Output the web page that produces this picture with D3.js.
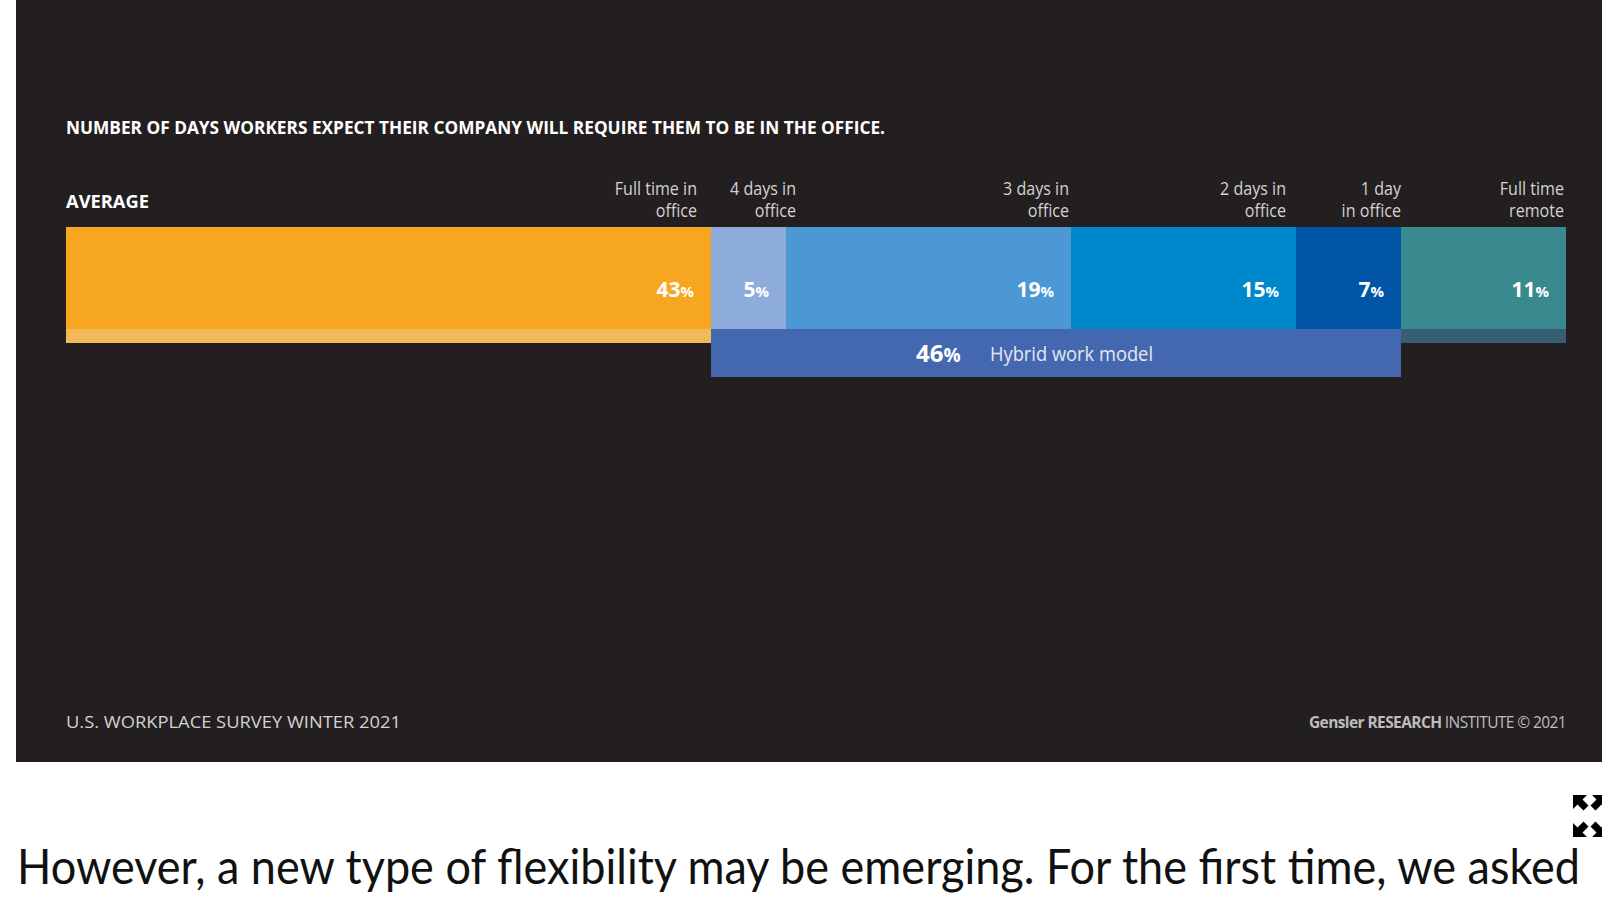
<!DOCTYPE html>
<html>
<head>
<meta charset="utf-8">
<script src="https://cdn.jsdelivr.net/npm/d3@7"></script>
<style>
  html, body { margin: 0; padding: 0; background: #ffffff; overflow: hidden; }
  svg { display: block; }
</style>
</head>
<body>
<svg id="chart" width="1602" height="903"></svg>
<script>
// ---- data ----
const categories = ["Full time in office", "4 days in office", "3 days in office", "2 days in office", "1 day in office", "Full time remote"];
const labelLines = [["Full time in", "office"], ["4 days in", "office"], ["3 days in", "office"], ["2 days in", "office"], ["1 day", "in office"], ["Full time", "remote"]];
const values = [43, 5, 19, 15, 7, 11];
const colors = ["#F7A71F", "#8DACDA", "#4B98D4", "#0088CC", "#0055A6", "#3A898E"];
const stripColors = ["#F1BA59", null, null, null, null, "#385E74"];
const hybridRange = [1, 4]; // indexes of segments that form the hybrid model
const hybridValue = 46;
const hybridLabel = "Hybrid work model";
const labelNudge = [-14, 10, -2, -10, 0, -2];

const title = "NUMBER OF DAYS WORKERS EXPECT THEIR COMPANY WILL REQUIRE THEM TO BE IN THE OFFICE.";
const rowLabel = "AVERAGE";
const sourceLeft = "U.S. WORKPLACE SURVEY WINTER 2021";
const bodyText = "However, a new type of flexibility may be emerging. For the first time, we asked";

// ---- layout ----
const svg = d3.select("#chart");
const W = 1602, H = 903;
const font = "'Open Sans', 'Noto Sans', sans-serif";

svg.append("rect").attr("x", 16).attr("y", 0).attr("width", W - 16).attr("height", 762).attr("fill", "#231F20");

const x = d3.scaleLinear().domain([0, d3.sum(values)]).range([66, 1566]);
const y = d3.scaleBand().domain([rowLabel]).range([227, 329]).padding(0);

const cum = [];
values.reduce((a, v, i) => { cum.push({ start: a, end: a + v, v, i }); return a + v; }, 0);

// title
svg.append("text").attr("x", 66).attr("y", 134)
  .attr("font-family", font).attr("font-weight", 700).attr("font-size", 18.5)
  .attr("fill", "#ffffff").attr("textLength", 819).attr("lengthAdjust", "spacingAndGlyphs")
  .text(title);

svg.append("text").attr("x", 66).attr("y", 207.5)
  .attr("font-family", font).attr("font-weight", 700).attr("font-size", 18)
  .attr("fill", "#ffffff").attr("textLength", 83).attr("lengthAdjust", "spacingAndGlyphs")
  .text(rowLabel);

// strips below
const stripH = 14;
svg.append("g").selectAll("rect").data(cum.filter(d => stripColors[d.i]))
  .join("rect")
  .attr("x", d => x(d.start)).attr("width", d => x(d.end) - x(d.start))
  .attr("y", y(rowLabel) + y.bandwidth()).attr("height", stripH)
  .attr("fill", d => stripColors[d.i]);

// segments
svg.append("g").selectAll("rect").data(cum)
  .join("rect")
  .attr("x", d => x(d.start)).attr("width", d => x(d.end) - x(d.start))
  .attr("y", y(rowLabel)).attr("height", y.bandwidth())
  .attr("fill", d => colors[d.i]);

// category labels
const catG = svg.append("g");
cum.forEach(d => {
  const t = catG.append("text")
    .attr("font-family", font).attr("font-size", 17.5)
    .attr("fill", "#d2d2d2").attr("text-anchor", "end")
    .attr("transform", `translate(${x(d.end) + labelNudge[d.i]},0) scale(0.92,1)`);
  labelLines[d.i].forEach((ln, k) => {
    t.append("tspan").attr("x", 0).attr("y", 195 + k * 22).text(ln);
  });
});

// value labels
const valG = svg.append("g");
cum.forEach(d => {
  const t = valG.append("text")
    .attr("x", x(d.end) - 17).attr("y", 297)
    .attr("font-family", font).attr("font-weight", 700)
    .attr("fill", "#ffffff").attr("text-anchor", "end");
  t.append("tspan").attr("font-size", 21).text(d.v);
  t.append("tspan").attr("font-size", 15).text("%");
});

// hybrid box
const hx0 = x(cum[hybridRange[0]].start), hx1 = x(cum[hybridRange[1]].end);
const hy0 = y(rowLabel) + y.bandwidth();
svg.append("rect").attr("x", hx0).attr("y", hy0).attr("width", hx1 - hx0).attr("height", 48)
  .attr("fill", "#4468B0");
const ht = svg.append("text").attr("x", 916).attr("y", 362)
  .attr("font-family", font).attr("font-weight", 700).attr("fill", "#ffffff");
ht.append("tspan").attr("font-size", 24).text(hybridValue);
ht.append("tspan").attr("font-size", 19).text("%");
svg.append("text").attr("x", 990).attr("y", 361)
  .attr("font-family", font).attr("font-size", 19.5).attr("fill", "#e4e8f2")
  .attr("textLength", 163).attr("lengthAdjust", "spacingAndGlyphs")
  .text(hybridLabel);

// footer
svg.append("text").attr("x", 66).attr("y", 728)
  .attr("font-family", font).attr("font-size", 17).attr("fill", "#d2d2d2")
  .attr("textLength", 335).attr("lengthAdjust", "spacingAndGlyphs")
  .text(sourceLeft);
const ft = svg.append("text").attr("x", 1566).attr("y", 728).attr("text-anchor", "end")
  .attr("font-family", font).attr("font-size", 15.5).attr("fill", "#bdbdbd")
  .attr("letter-spacing", -0.6);
ft.append("tspan").attr("font-weight", 700).text("Gensler RESEARCH");
ft.append("tspan").text(" INSTITUTE © 2021");

// body text below
svg.append("text").attr("x", 17).attr("y", 884)
  .attr("font-family", "Lato, 'Noto Sans', sans-serif").attr("font-size", 49).attr("fill", "#111111")
  .attr("textLength", 1563).attr("lengthAdjust", "spacingAndGlyphs")
  .text(bodyText);

// expand icon
const icon = svg.append("g").attr("fill", "#000");
const arrow = "M0,0 L14,0 L9.5,4.5 L15.5,10.5 L10.5,15.5 L4.5,9.5 L0,14 Z";
[[1573, 795, 0], [1606, 795, 90], [1573, 837, -90], [1606, 837, 180]].forEach(([ax, ay, r]) => {
  icon.append("path").attr("d", arrow).attr("transform", `translate(${ax},${ay}) rotate(${r})`);
});
</script>
</body>
</html>
